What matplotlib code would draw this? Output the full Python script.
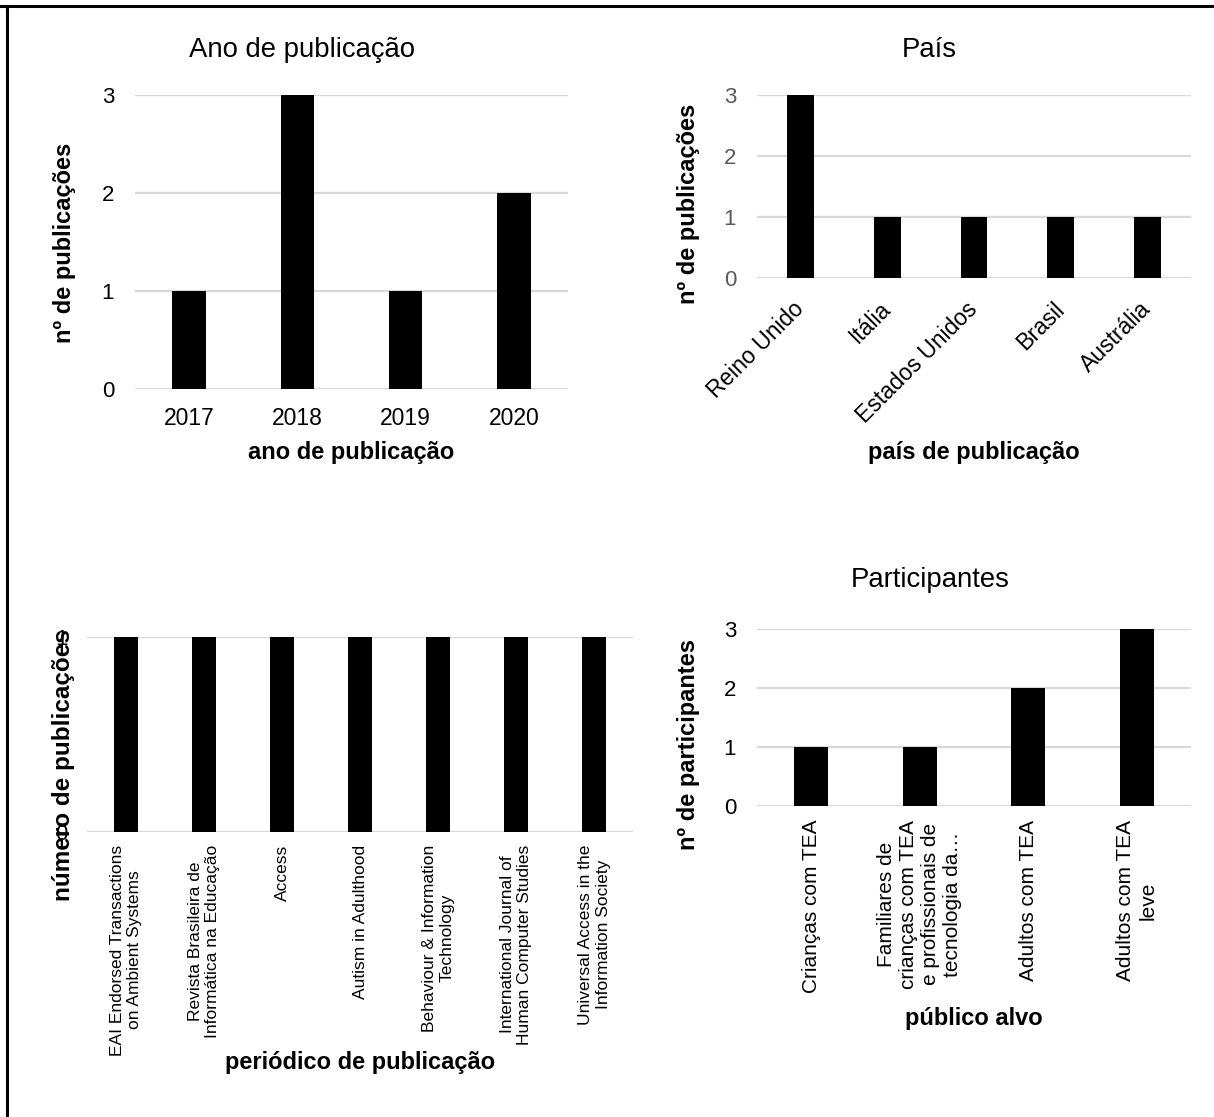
import matplotlib
matplotlib.use("Agg")
import matplotlib.pyplot as plt
from matplotlib.lines import Line2D

plt.rcParams['font.family'] = ['Liberation Sans', 'DejaVu Sans']

# publication year
anos = ['2017', '2018', '2019', '2020']
anos_qtd = [1, 3, 1, 2]

# country
paises = ['Reino Unido', 'Itália', 'Estados Unidos', 'Brasil', 'Austrália']
paises_qtd = [3, 1, 1, 1, 1]

# journal
periodicos = ['EAI Endorsed Transactions\non Ambient Systems',
              'Revista Brasileira de\nInformática na Educação',
              'Access',
              'Autism in Adulthood',
              'Behaviour & Information\nTechnology',
              'International Journal of\nHuman Computer Studies',
              'Universal Access in the\nInformation Society']
periodicos_qtd = [1, 1, 1, 1, 1, 1, 1]

# target audience
publicos = ['Crianças com TEA',
            'Familiares de\ncrianças com TEA\ne profissionais de\ntecnologia da…',
            'Adultos com TEA',
            'Adultos com TEA\nleve']
publicos_qtd = [1, 1, 2, 3]

W, H = 1214, 1117
fig = plt.figure(figsize=(W / 100, H / 100), dpi=100)


def box(x0, y0, x1, y1):
    # pixel box -> figure fraction
    return [x0 / W, 1 - y1 / H, (x1 - x0) / W, (y1 - y0) / H]


def px(x, y):
    return x / W, 1 - y / H


def bars(ax, cats, vals, ytick_color='black', ytick_size=16, ypad=15):
    x = range(len(cats))
    ax.bar(x, vals, width=0.31, color='black', zorder=3)
    ax.set_xlim(-0.5, len(cats) - 0.5)
    ax.set_ylim(0, max(vals))
    ax.set_yticks(range(max(vals) + 1))
    ax.grid(axis='y', color='#d9d9d9', linewidth=1.6, zorder=0)
    ax.set_axisbelow(True)
    for s in ax.spines.values():
        s.set_visible(False)
    ax.tick_params(axis='both', length=0)
    ax.tick_params(axis='y', labelsize=ytick_size, labelcolor=ytick_color, pad=ypad)
    ax.set_xticks(list(x))
    return ax


# ano de publicação
ax1 = fig.add_axes(box(135, 95, 568, 389))
bars(ax1, anos, anos_qtd)
ax1.set_xticklabels(anos, fontsize=16.5)
ax1.tick_params(axis='x', pad=13)
fig.text(*px(302, 50), 'Ano de publicação', fontsize=19.8, ha='center', va='center')
fig.text(*px(65, 243), 'nº de publicações', fontsize=17, fontweight='bold',
         rotation=90, ha='center', va='center')
fig.text(*px(351, 452), 'ano de publicação', fontsize=17, fontweight='bold',
         ha='center', va='center')

# país
ax2 = fig.add_axes(box(757, 95, 1191, 278))
bars(ax2, paises, paises_qtd, ytick_color='#595959')
ax2.set_xticklabels(paises, fontsize=16.5, rotation=45, ha='right',
                    va='center', rotation_mode='anchor')
ax2.tick_params(axis='x', pad=20)
fig.text(*px(929, 50), 'País', fontsize=19.8, ha='center', va='center')
fig.text(*px(688, 204), 'nº de publicações', fontsize=17, fontweight='bold',
         rotation=90, ha='center', va='center')
fig.text(*px(974, 453), 'país de publicação', fontsize=17, fontweight='bold',
         ha='center', va='center')

# periódico
ax3 = fig.add_axes(box(87, 637, 633, 832))
bars(ax3, periodicos, periodicos_qtd, ypad=14)
ax3.set_xticklabels(periodicos, fontsize=12.5, rotation=90,
                    multialignment='center', linespacing=1.25)
ax3.tick_params(axis='x', pad=9)
# axis label sits under the tick numbers
fig.text(*px(64, 765), 'número de publicações', fontsize=17.5, fontweight='bold',
         rotation=90, ha='center', va='center', zorder=0)
fig.text(*px(360, 1063), 'periódico de publicação', fontsize=17, fontweight='bold',
         ha='center', va='center')

# participantes
ax4 = fig.add_axes(box(757, 629, 1191, 806))
bars(ax4, publicos, publicos_qtd)
ax4.set_xticklabels(publicos, fontsize=15, rotation=90,
                    multialignment='center', linespacing=1.2)
ax4.tick_params(axis='x', pad=10)
fig.text(*px(930, 580), 'Participantes', fontsize=19.8, ha='center', va='center')
fig.text(*px(688, 745), 'nº de participantes', fontsize=17, fontweight='bold',
         rotation=90, ha='center', va='center')
fig.text(*px(974, 1019), 'público alvo', fontsize=17, fontweight='bold',
         ha='center', va='center')

# frame along top and left edge
fig.add_artist(Line2D([0, 1], [1 - 6 / H, 1 - 6 / H], color='black', linewidth=2.2,
                      transform=fig.transFigure))
fig.add_artist(Line2D([7 / W, 7 / W], [0, 1 - 6 / H], color='black', linewidth=2.2,
                      transform=fig.transFigure))

fig.savefig('out.png', dpi=100, facecolor='white')
